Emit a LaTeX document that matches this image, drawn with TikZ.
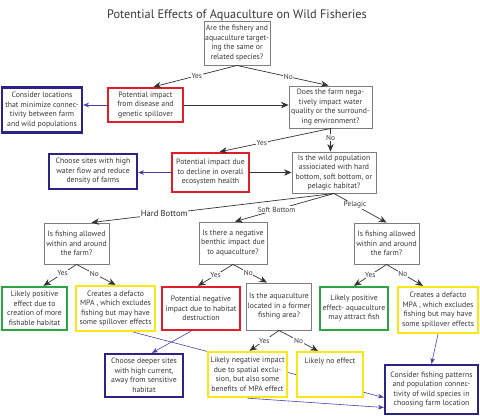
\documentclass[tikz,border=0pt]{standalone}
\usepackage{fontspec}
\setmainfont{PT Sans}
\usepackage{tikz}
\usetikzlibrary{positioning,arrows.meta,calc}
\definecolor{qgray}{RGB}{125,125,125}
\definecolor{txtgray}{RGB}{55,55,55}
\definecolor{navy}{RGB}{45,35,135}
\definecolor{navyline}{RGB}{70,60,170}
\definecolor{alarm}{RGB}{225,30,40}
\definecolor{caution}{RGB}{250,232,20}
\definecolor{good}{RGB}{45,165,65}
\pgfdeclarelayer{bg}
\pgfsetlayers{bg,main}

\begin{document}
\begin{tikzpicture}[x=0.03cm, y=-0.03cm,
    % Node styles
    boxsize/.style 2 args={minimum width=#1*0.03cm, minimum height=#2*0.03cm},
    basebox/.style={rectangle, fill=white, align=center, inner sep=1pt, text=txtgray,
                    font=\fontsize{6.6}{8.1}\selectfont},
    question/.style={basebox, draw=qgray, line width=0.8pt},
    hazard/.style={basebox, draw=alarm, line width=2pt},
    advice/.style={basebox, draw=navy, line width=2pt},
    mixed/.style={basebox, draw=caution, line width=2pt},
    benefit/.style={basebox, draw=good, line width=2pt},
    % Arrow styles
    answer/.style={-{Stealth[length=6.5pt, width=5.5pt]}, line width=0.6pt, color=black!80},
    remedy/.style={-{Stealth[length=5pt, width=4pt]}, line width=0.5pt, color=navyline},
    lbl/.style={fill=white, inner sep=0.6pt, text=txtgray, font=\fontsize{6.3}{7}\selectfont}
]
\useasboundingbox (0,0) rectangle (480,415);

% Title
\node[font=\fontsize{10.5}{12}\selectfont, text=txtgray] (title) at (237,15) {Potential Effects of Aquaculture on Wild Fisheries};

% First question
\node[question, boxsize={66}{44}] (same_species) at (237,43) {Are the fishery and\\aquaculture target-\\ing the same or\\related species?};
\node[hazard, boxsize={75}{34}] (spillover) at (145.5,105) {Potential impact\\from disease and\\genetic spillover};
\node[advice, boxsize={80}{45}] (connectivity) at (42,110) {Consider  locations\\that minimize connec-\\tivity between farm\\and wild populations};
\node[question, boxsize={83}{42}] (water_quality) at (330.5,107) {Does the farm nega-\\tively impact water\\quality or the surround-\\ing environment?};

% Second level
\node[hazard, boxsize={77}{39}] (ecosystem) at (210.5,172.5) {Potential impact due\\to decline in overall\\ecosystem health};
\node[advice, boxsize={88}{35}] (water_flow) at (93,171.5) {Choose sites with high\\water flow and reduce\\density of farms};
\node[question, boxsize={84}{41}] (habitat) at (334,172.5) {Is the wild population\\assiociated with hard\\bottom, soft bottom, or\\pelagic habitat?};

% Habitat questions
\node[question, boxsize={65}{41}] (fishing_hard) at (76.5,243.5) {Is fishing allowed\\within and around\\the farm?};
\node[question, boxsize={68}{42}] (benthic) at (233,243) {Is there a negative\\benthic impact due\\to aquaculture?};
\node[question, boxsize={65}{41}] (fishing_pelagic) at (386.5,243.5) {Is fishing allowed\\within and around\\the farm?};

% Outcomes
\node[benefit, boxsize={65}{43}] (fishable) at (34.5,308.5) {Likely positive\\effect due to\\creation of more\\fishable habitat};
\node[mixed, boxsize={79}{45}] (mpa_hard) at (115.5,308.5) {Creates a defacto\\MPA , which excludes\\fishing but  may have\\some spillover effects};
\node[hazard, boxsize={78}{43}] (destruction) at (201,308.5) {Potential negative\\impact due to habitat\\destruction};
\node[question, boxsize={64}{47}] (former_area) at (279,306.5) {Is the aquaculture\\located in a former\\fishing area?};
\node[benefit, boxsize={68}{43}] (attract) at (354,308.5) {Likely positive\\effect- aquaculture\\may attract fish};
\node[mixed, boxsize={80}{46}] (mpa_pelagic) at (438,310) {Creates a defacto\\MPA , which excludes\\fishing but  may have\\some spillover effects};

% Bottom row
\node[advice, boxsize={78}{43}] (deeper) at (144,375.5) {Choose deeper sites\\with high current,\\away from sensitive\\habitat};
\node[mixed, boxsize={79}{45}] (exclusion) at (247.5,374.5) {Likely negative impact\\due to spatial exclu-\\sion, but also some\\benefits of MPA effect};
\node[mixed, boxsize={66}{45}] (no_effect) at (330,374.5) {Likely no effect\\[16pt]\mbox{}};
\node[advice, boxsize={93}{49}] (patterns) at (431.5,389.5) {Consider  fishing patterns\\and population connec-\\tivity of wild species in\\choosing farm location};

% Answers
\draw[answer] (same_species.south) -- ($(spillover.north)+(8,0)$) node[lbl, pos=0.48] {Yes};
\draw[answer] (same_species.south) -- ($(water_quality.north)+(-2,0)$) node[lbl, pos=0.56] {No};
\draw[answer] (spillover.east) -- (spillover.east -| water_quality.west);
\draw[answer] (water_quality.south) -- ($(ecosystem.north)+(9,0)$) node[lbl, pos=0.62] {Yes};
\draw[answer] (water_quality.south) -- (water_quality.south |- habitat.north) node[lbl, pos=0.4] {No};
\draw[answer] (ecosystem.east) -- (ecosystem.east -| habitat.west);

\draw[answer] (habitat.south) -- ($(fishing_hard.north)+(15,0)$) node[lbl, pos=0.70, font=\fontsize{7.3}{8}\selectfont, text=black!85] {Hard Bottom};
\draw[answer] (habitat.south) -- ($(benthic.north)+(2,0)$) node[lbl, pos=0.58] {Soft Bottom};
\draw[answer] (habitat.south) -- (fishing_pelagic.north) node[lbl, pos=0.4] {Pelagic};

\draw[answer] (fishing_hard.south) -- ($(fishable.north)+(9,0)$) node[lbl, pos=0.42] {Yes};
\draw[answer] (fishing_hard.south) -- (mpa_hard.north) node[lbl, pos=0.46] {No};
\draw[answer] (benthic.south) -- ($(destruction.north)+(-3,0)$) node[lbl, pos=0.5] {Yes};
\draw[answer] (benthic.south) -- ($(former_area.north)+(-12,0)$) node[lbl, pos=0.45] {No};
\draw[answer] (fishing_pelagic.south) -- (attract.north) node[lbl, pos=0.5] {Yes};
\draw[answer] (fishing_pelagic.south) -- ($(mpa_pelagic.north)+(-15,0)$) node[lbl, pos=0.45] {No};
\draw[answer] (former_area.south) -- ($(exclusion.north)+(2,0)$) node[lbl, pos=0.5] {Yes};
\draw[answer] (former_area.south) -- ($(no_effect.north)+(-12,0)$) node[lbl, pos=0.5] {No};

% Recommendations
\draw[remedy] (spillover.west) -- (spillover.west -| connectivity.east);
\draw[remedy] (ecosystem.west) -- (ecosystem.west -| water_flow.east);
\draw[remedy] ($(destruction.south)+(-10,0)$) -- ($(deeper.north)+(8,0)$);
\draw[remedy] (mpa_pelagic.south) -- (patterns.north);
\draw[remedy] (exclusion.south) -- ($(patterns.west)+(0,18)$);
\begin{pgfonlayer}{bg}
\draw[remedy] ($(mpa_hard.south)+(18,0)$) -- ($(patterns.west)+(0,8)$);
\end{pgfonlayer}

\end{tikzpicture}
\end{document}
